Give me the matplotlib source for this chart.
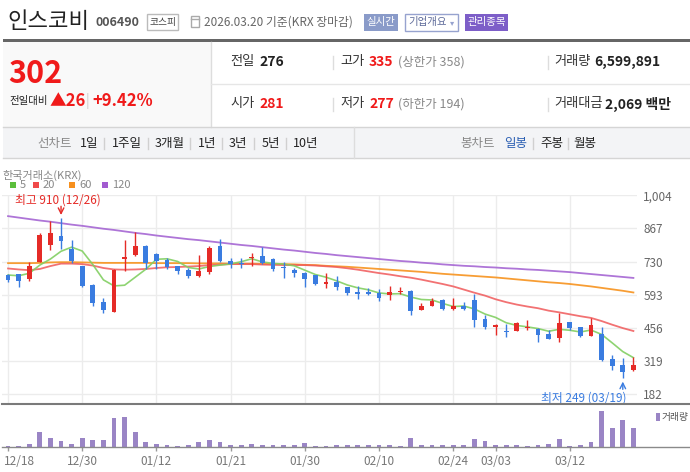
import matplotlib
matplotlib.use('Agg')
import matplotlib.pyplot as plt
import matplotlib.transforms as mtransforms
from matplotlib.patches import Rectangle
from matplotlib.lines import Line2D
import numpy as np

plt.rcParams['font.family'] = ['Noto Sans CJK KR', 'DejaVu Sans']

W, H = 690, 472

dates = ['12/18', '12/19', '12/22', '12/23', '12/24', '12/26', '12/29', '12/30',
         '01/02', '01/05', '01/06', '01/07', '01/08', '01/09', '01/12', '01/13',
         '01/14', '01/15', '01/16', '01/19', '01/20', '01/21', '01/22', '01/23',
         '01/26', '01/27', '01/28', '01/29', '01/30', '02/02', '02/03', '02/04',
         '02/05', '02/06', '02/09', '02/10', '02/11', '02/12', '02/13', '02/19',
         '02/20', '02/23', '02/24', '02/25', '02/26', '02/27', '03/03', '03/04',
         '03/05', '03/06', '03/09', '03/10', '03/11', '03/12', '03/13', '03/16',
         '03/17', '03/18', '03/19', '03/20']
tick_dates = ['12/18', '12/30', '01/12', '01/21', '01/30', '02/10', '02/24', '03/03', '03/12']

opens = [675, 678, 660, 730, 800, 836, 781, 712, 634, 564, 524, 742, 758, 795, 762,
         738, 712, 696, 672, 689, 795, 733, 723, 746, 753, 741, 708, 696, 683, 675,
         638, 646, 624, 605, 605, 602, 594, 605, 609, 532, 548, 572, 535, 547, 572,
         493, 459, 444, 445, 456, 453, 433, 416, 481, 460, 425, 433, 328, 304, 281]
highs = [678, 680, 729, 847, 898, 910, 819, 714, 636, 580, 698, 819, 851, 798, 764,
         746, 714, 703, 758, 796, 824, 744, 746, 766, 791, 745, 730, 703, 689, 677,
         682, 671, 626, 630, 621, 616, 630, 624, 612, 558, 580, 574, 580, 563, 597,
         511, 473, 473, 481, 489, 456, 448, 517, 483, 462, 497, 459, 345, 331, 335]
lows = [647, 626, 652, 728, 778, 784, 723, 624, 547, 519, 522, 693, 754, 700, 701,
        700, 679, 664, 668, 680, 727, 705, 705, 713, 722, 693, 664, 667, 627, 634,
        621, 613, 594, 577, 591, 569, 572, 597, 511, 530, 546, 530, 530, 530, 462,
        453, 429, 420, 443, 448, 398, 409, 398, 448, 420, 423, 322, 283, 249, 277]
closes = [654, 649, 712, 840, 848, 817, 734, 630, 561, 531, 696, 749, 795, 726, 734,
          707, 693, 672, 692, 788, 733, 719, 719, 750, 726, 701, 703, 683, 660, 638,
          646, 627, 601, 598, 598, 581, 605, 610, 528, 547, 569, 536, 547, 535, 489,
          462, 467, 438, 477, 461, 429, 411, 478, 456, 425, 469, 324, 301, 276, 302]

ma5 = [675, 672, 682, 716, 741, 773, 790, 774, 718, 655, 630, 633, 666, 699, 740,
       742, 731, 706, 700, 710, 716, 721, 730, 742, 729, 723, 720, 713, 695, 677,
       666, 651, 634, 622, 614, 601, 597, 598, 584, 574, 572, 558, 545, 547, 535,
       514, 500, 478, 467, 461, 454, 443, 451, 447, 440, 448, 430, 395, 359, 334]
ma20 = [702, 698, 695, 700, 712, 722, 722, 720, 714, 704, 698, 697, 698, 700, 704,
        707, 708, 710, 712, 716, 718, 720, 720, 720, 718, 717, 716, 716, 716, 714,
        711, 708, 703, 697, 690, 683, 677, 670, 664, 656, 647, 638, 628, 615, 602,
        590, 575, 563, 553, 545, 538, 528, 521, 513, 505, 498, 485, 470, 456, 444]
ma60 = [724, 724, 724, 725, 727, 728, 728, 727, 726, 725, 725, 725, 725, 725, 724,
        724, 724, 724, 723, 723, 723, 722, 722, 722, 721, 721, 720, 719, 717, 716,
        713, 711, 709, 706, 703, 700, 697, 694, 691, 688, 684, 680, 677, 674, 671,
        668, 665, 661, 657, 653, 649, 645, 642, 638, 633, 628, 622, 616, 610, 603]
ma120 = [918, 912, 906, 900, 895, 889, 883, 878, 872, 866, 861, 855, 849, 844, 838,
         833, 828, 823, 819, 814, 809, 804, 799, 795, 790, 785, 780, 776, 771, 766,
         762, 757, 753, 749, 745, 741, 737, 733, 730, 726, 723, 719, 716, 713, 711,
         708, 706, 703, 701, 698, 696, 693, 690, 687, 683, 679, 675, 671, 667, 663]

# volume in thousand shares
volume = [350, 350, 930, 5100, 3100, 2000, 930, 3100, 2300, 2300,
          10100, 10300, 5100, 1600, 930, 580, 350, 580, 1600, 2300,
          1600, 580, 580, 930, 580, 580, 580, 580, 1270, 240,
          240, 580, 580, 580, 580, 580, 580, 240, 3100, 580,
          580, 580, 580, 580, 2660, 1970, 580, 580, 580, 240,
          580, 930, 2660, 240, 580, 1600, 12500, 6600, 9250, 6600]

price_ticks = [182, 319, 456, 593, 730, 867, 1004]

RED = '#e52b27'
BLUE = '#3a7ce0'
VOL = '#9a85c5'
TXT_RED = '#f01a1a'

fig = plt.figure(figsize=(W / 100, H / 100), dpi=100)
fig.patch.set_facecolor('white')


def fx(x):
    return x / W


def fy(y):
    return 1 - y / H


def label(x, y, s, size=9, color='#333', weight='normal', ha='left'):
    fig.text(fx(x), fy(y), s, fontsize=size, color=color, fontweight=weight,
             ha=ha, va='center')


def box(x0, y0, x1, y1, fc='none', ec='none', lw=1):
    fig.add_artist(Rectangle((fx(x0), fy(y1)), fx(x1) - fx(x0), fy(y0) - fy(y1),
                             transform=fig.transFigure, fc=fc, ec=ec, lw=lw))


def hline(y, x0, x1, color, lw=1):
    fig.add_artist(Line2D([fx(x0), fx(x1)], [fy(y), fy(y)], color=color, lw=lw))


def vline(x, y0, y1, color, lw=1):
    fig.add_artist(Line2D([fx(x), fx(x)], [fy(y0), fy(y1)], color=color, lw=lw))


# ---- header ----
label(7, 22, '인스코비', size=16, color='#222')
label(96, 23, '006490', size=9, color='#555', weight='bold')
box(147, 14, 178, 30, fc='white', ec='#bbbbbb')
label(162.5, 22, '코스피', size=7, color='#444', ha='center')
box(191, 16, 199, 27, ec='#aaaaaa')
hline(19, 191, 199, '#aaaaaa')
label(204, 22, '2026.03.20 기준(KRX 장마감)', size=8.5, color='#666')
box(364, 14, 398, 31, fc='#8a9bc9')
label(381, 22.5, '실시간', size=7.5, color='white', ha='center')
box(405, 14, 458, 31, fc='white', ec='#97a3cf')
label(428, 22.5, '기업개요', size=7.5, color='#5d6a99', ha='center')
label(452, 22.5, '▾', size=6, color='#97a3cf', ha='center')
box(465, 14, 508, 31, fc='#7d5ec8')
label(486.5, 22.5, '관리종목', size=7.5, color='white', ha='center')

box(3, 39, 690, 42, fc='#666666')
box(3, 42, 211, 127, fc='#f9f9f9')
vline(211, 42, 127, '#dddddd')

label(8, 74, '302', size=22, color=TXT_RED, weight='bold')
label(9, 101, '전일대비', size=7.5, color='#222')
label(50, 101, '▲26', size=12, color=TXT_RED, weight='bold')
label(86, 101, '|', size=10, color='#cccccc')
label(92, 101, '+9.42%', size=12, color=TXT_RED, weight='bold')

hline(84, 211, 690, '#e6e6e6')
for sx in (333, 548):
    vline(sx, 56, 69, '#dddddd')
    vline(sx, 98, 111, '#dddddd')

label(230, 62, '전일', size=9.5, color='#333')
label(259, 62, '276', size=10, color='#222', weight='bold')
label(340, 62, '고가', size=9.5, color='#333')
label(369, 62, '335', size=10, color=TXT_RED, weight='bold')
label(398, 62, '(상한가 358)', size=9, color='#888')
label(554, 62, '거래량', size=9.5, color='#333')
label(594, 62, '6,599,891', size=10, color='#222', weight='bold')

label(230, 104, '시가', size=9.5, color='#333')
label(259, 104, '281', size=10, color=TXT_RED, weight='bold')
label(340, 104, '저가', size=9.5, color='#333')
label(369, 104, '277', size=10, color=TXT_RED, weight='bold')
label(398, 104, '(하한가 194)', size=9, color='#888')
label(554, 104, '거래대금', size=9.5, color='#333')
label(605, 104, '2,069 백만', size=10, color='#222', weight='bold')

# ---- tab bar ----
box(3, 127, 690, 158, fc='#f3f4f6')
hline(127, 3, 690, '#d5d5d5')
hline(158, 3, 690, '#d5d5d5')
vline(354, 127, 158, '#dddddd')
label(37, 143, '선차트', size=9, color='#888')
for name, tx in [('1일', 80), ('1주일', 112), ('3개월', 155), ('1년', 198),
                 ('3년', 229), ('5년', 262), ('10년', 293)]:
    label(tx, 143, name, size=9, color='#222')
for sx in (104, 148, 190, 222, 254, 286):
    vline(sx, 138, 149, '#d0d0d0')
label(460, 143, '봉차트', size=9, color='#888')
label(504, 143, '일봉', size=9, color='#2b5fb3')
label(540, 143, '주봉', size=9, color='#222')
label(573, 143, '월봉', size=9, color='#222')
vline(533, 138, 149, '#d0d0d0')
vline(568, 138, 149, '#d0d0d0')

# ---- chart legend ----
label(2, 175, '한국거래소(KRX)', size=8, color='#888')
for (c, txt, sx) in [('#5cbf3c', '5', 10), ('#f04a4a', '20', 33),
                     ('#f7901e', '60', 69), ('#a25bd0', '120', 102)]:
    box(sx, 182, sx + 6, 188, fc=c)
    label(sx + 10, 185.5, txt, size=8, color='#888')

# ---- price panel ----
idx = np.arange(len(dates))
tick_idx = [dates.index(d) for d in tick_dates]

ax = fig.add_axes([fx(2), fy(404.3), fx(637) - fx(2), fy(195.3) - fy(404.3)])
ax.set_xlim(-0.57, 59.34)
ax.set_ylim(141.5, 1004)
for s in ax.spines.values():
    s.set_visible(False)
ax.set_xticks(tick_idx)
ax.set_yticks(price_ticks)
ax.set_yticklabels([f'{v:,}' for v in price_ticks])
ax.grid(True, color='#ececec', lw=1)
ax.set_axisbelow(True)
ax.tick_params(length=0, labelbottom=False, labelleft=False, labelright=True,
               labelsize=8.5, labelcolor='#666', pad=4.5)

ax.plot(idx, ma120, color='#a566d3', lw=1.3, alpha=0.9, zorder=2)
ax.plot(idx, ma60, color='#f7931e', lw=1.3, alpha=0.9, zorder=2)
ax.plot(idx, ma20, color='#f0595a', lw=1.3, alpha=0.85, zorder=2)
ax.plot(idx, ma5, color='#82cf62', lw=1.2, alpha=0.9, zorder=2)

for i in idx:
    o, h, l, c = opens[i], highs[i], lows[i], closes[i]
    col = RED if c >= o else BLUE
    ax.vlines(i, l, h, color=col, lw=1, zorder=3)
    ax.bar(i, max(abs(c - o), 3), bottom=min(o, c), width=0.45, color=col, zorder=3)

imax = int(np.argmax(highs))
imin = int(np.argmin(lows))
ax.annotate('', xy=(imax, highs[imax]), xytext=(0, 8.5), textcoords='offset points',
            arrowprops=dict(arrowstyle='->', color=RED, lw=1, shrinkA=0, shrinkB=2.2))
ax.annotate(f'최고 {highs[imax]} ({dates[imax]})', xy=(imax, highs[imax]),
            xytext=(-33, 12.7), textcoords='offset points', ha='left', va='center',
            fontsize=8.5, color=RED)
ax.annotate('', xy=(imin, lows[imin]), xytext=(0, -8), textcoords='offset points',
            arrowprops=dict(arrowstyle='->', color=BLUE, lw=1, shrinkA=0, shrinkB=2.4))
ax.annotate(f'최저 {lows[imin]} ({dates[imin]})', xy=(imin, lows[imin]),
            xytext=(2.4, -14), textcoords='offset points', ha='right', va='center',
            fontsize=8.5, color=BLUE)

# ---- volume panel ----
axv = fig.add_axes([fx(2), fy(446.7), fx(637) - fx(2), fy(404.3) - fy(446.7)])
axv.bar(idx, volume, width=0.45, color=VOL)
axv.set_xlim(-0.57, 59.34)
axv.set_ylim(0, max(volume) * 1.18)
for s in axv.spines.values():
    s.set_visible(False)
axv.set_yticks([])
axv.set_xticks(tick_idx)
axv.set_xticklabels(tick_dates)
axv.tick_params(axis='x', direction='out', length=3, color='#999', width=1,
                labelsize=8.5, labelcolor='#777', pad=3)
first = axv.get_xticklabels()[0]
first.set_horizontalalignment('left')
first.set_transform(first.get_transform() +
                    mtransforms.ScaledTranslation(-4 / 100, 0, fig.dpi_scale_trans))

hline(404.3, 2, 690, '#7a7a7a', lw=1.5)
hline(446.7, 2, 690, '#8a8a8a', lw=1)
box(656, 413, 660, 421, fc=VOL)
label(662, 417, '거래량', size=7, color='#555')

fig.savefig('out.png', dpi=100)
